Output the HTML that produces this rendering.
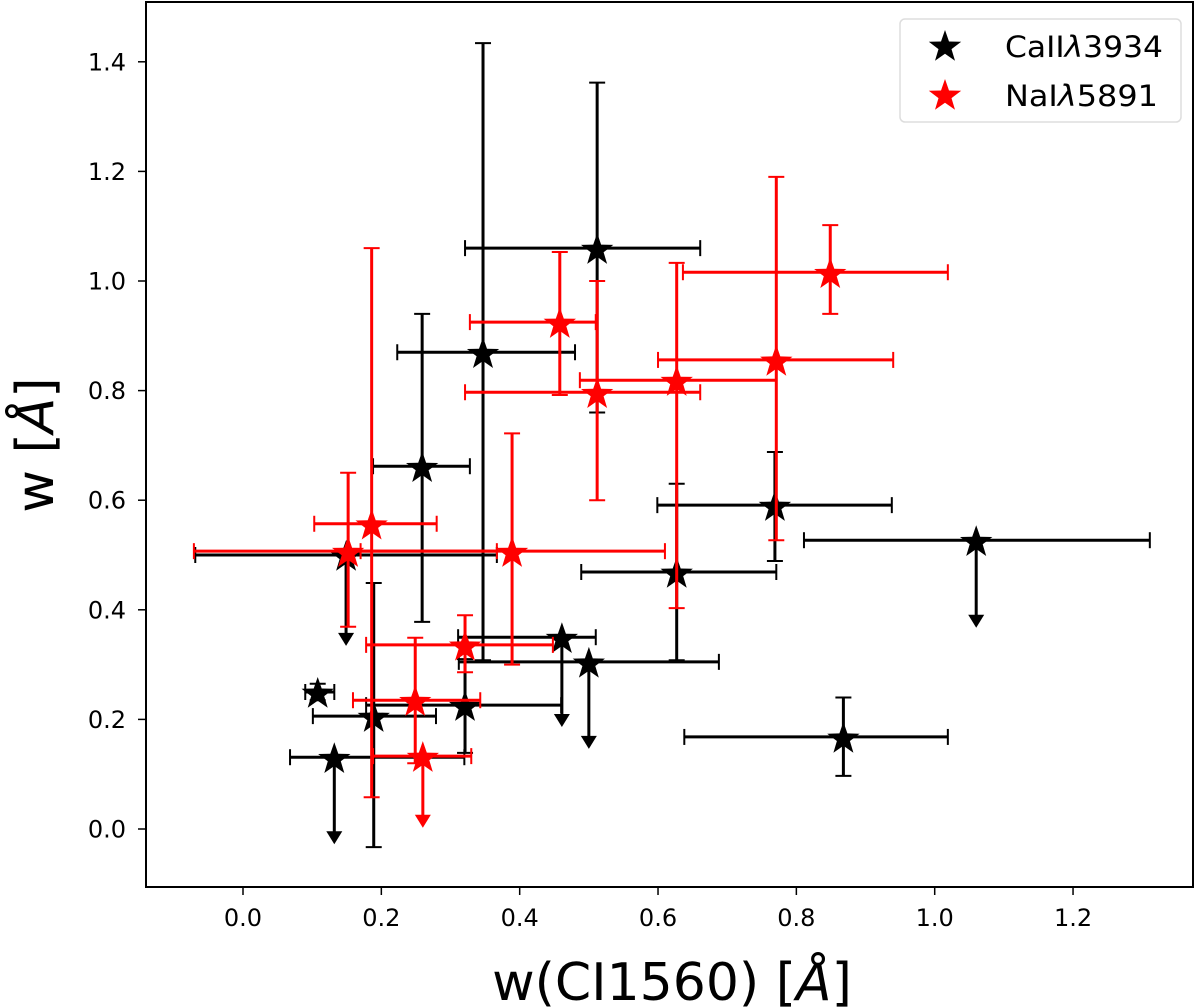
<!DOCTYPE html>
<html><head><meta charset="utf-8"><style>
body{margin:0;background:#fff}
svg{display:block;font-family:"DejaVu Sans","Liberation Sans",sans-serif}
</style></head><body>
<svg id="chart" width="1200" height="1007" viewBox="0 0 1200 1007" xmlns="http://www.w3.org/2000/svg">
<rect x="0" y="0" width="1200" height="1007" fill="#fff"/>
<g id="marks"></g>
<rect x="146" y="2" width="1047" height="885" fill="none" stroke="#000" stroke-width="2"/>
<g id="axes"></g>
<text x="672" y="1000" font-size="52" text-anchor="middle">w(CI1560) [<tspan font-style="italic">Å</tspan>]</text>
<text transform="translate(53,445) rotate(-90)" font-size="52" text-anchor="middle">w [<tspan font-style="italic">Å</tspan>]</text>
<g>
<rect x="900" y="19" width="281" height="103" rx="5" fill="#fff" stroke="#ddd" stroke-width="1.5"/>
<g id="legend-marks"></g>
<text x="1005" y="57" font-size="29" textLength="158" lengthAdjust="spacingAndGlyphs">CaII<tspan font-style="italic">λ</tspan>3934</text>
<text x="1005" y="106" font-size="29" textLength="153" lengthAdjust="spacingAndGlyphs">NaI<tspan font-style="italic">λ</tspan>5891</text>
</g>
</svg>
<script>
// CaII λ3934 (black)
const caX   = [0.512,0.347,0.259,0.769,1.06,0.627,0.149,0.461,0.50,0.108,0.189,0.321,0.132,0.868];
const caY   = [1.06,0.87,0.662,0.591,0.527,0.469,0.50,0.35,0.305,0.25,0.206,0.226,0.131,0.168];
const caXlo = [0.321,0.223,0.188,0.599,0.811,0.489,-0.069,0.311,0.312,0.09,0.101,0.178,0.068,0.638];
const caXhi = [0.661,0.48,0.328,0.938,1.311,0.771,0.367,0.51,0.688,0.132,0.279,0.46,0.32,1.019];
const caYlo = [0.76,0.308,0.378,0.489,0.369,0.308,0.336,0.188,0.148,0.235,-0.033,0.139,-0.026,0.097];
const caYhi = [1.362,1.434,0.94,0.688,0.527,0.63,0.50,0.35,0.305,0.265,0.449,0.31,0.131,0.24];
const caUL  = [false,false,false,false,true,false,true,true,true,false,false,false,true,false];
// NaI λ5891 (red)
const naX   = [0.849,0.458,0.771,0.627,0.512,0.186,0.152,0.389,0.321,0.249,0.26];
const naY   = [1.016,0.925,0.856,0.819,0.797,0.557,0.507,0.507,0.336,0.235,0.133];
const naXlo = [0.636,0.328,0.60,0.487,0.321,0.103,-0.071,0.17,0.178,0.159,0.188];
const naXhi = [1.019,0.51,0.94,0.771,0.661,0.28,0.367,0.61,0.448,0.343,0.33];
const naYlo = [0.94,0.792,0.527,0.403,0.60,0.058,0.369,0.30,0.286,0.12,0.004];
const naYhi = [1.102,1.053,1.19,1.033,1.0,1.06,0.65,0.722,0.39,0.349,0.133];
const naUL  = [false,false,false,false,false,false,false,false,false,false,true];
const xTicks = [0.0,0.2,0.4,0.6,0.8,1.0,1.2];
const yTicks = [0.0,0.2,0.4,0.6,0.8,1.0,1.2,1.4];

const NS='http://www.w3.org/2000/svg';
const xs = v => 243 + 691.7*v;
const ys = v => 829 - 548*v;
function mk(tag, attrs, parent){const e=document.createElementNS(NS,tag);for(const k in attrs)e.setAttribute(k,attrs[k]);parent.appendChild(e);return e;}
function starPts(cx,cy,R){const r=R*0.4;let p=[];for(let i=0;i<10;i++){const a=-Math.PI/2+i*Math.PI/5;const rr=i%2?r:R;p.push((cx+rr*Math.cos(a)).toFixed(1)+','+(cy+rr*Math.sin(a)).toFixed(1));}return p.join(' ');}

const axes=document.getElementById('axes');
xTicks.forEach(t=>{
  const l=mk('line',{x1:xs(t),x2:xs(t),y1:887,y2:895,stroke:'#000','stroke-width':1.5},axes);
  
  
  const tx=mk('text',{x:xs(t),y:926,'font-size':24,'text-anchor':'middle'},axes);
  tx.textContent=t.toFixed(1);
  
  
});
yTicks.forEach(t=>{
  const l=mk('line',{x1:138,x2:146,y1:ys(t),y2:ys(t),stroke:'#000','stroke-width':1.5},axes);
  
  
  const tx=mk('text',{x:126,y:ys(t)+8.5,'font-size':24,'text-anchor':'end'},axes);
  tx.textContent=t.toFixed(1);
  
  
});

const marks=document.getElementById('marks');
function drawSeries(X,Y,Xlo,Xhi,Ylo,Yhi,UL,color,name){
  const g=mk('g',{},marks);
  
  
  for(let i=0;i<X.length;i++){
    const cx=xs(X[i]),cy=ys(Y[i]);
    const eb=mk('g',{stroke:color,'stroke-width':3,fill:color},g);
    
    
    mk('line',{x1:xs(Xlo[i]),x2:xs(Xhi[i]),y1:cy,y2:cy},eb);
    mk('line',{x1:xs(Xlo[i]),x2:xs(Xlo[i]),y1:cy-8,y2:cy+8,'stroke-width':2},eb);
    mk('line',{x1:xs(Xhi[i]),x2:xs(Xhi[i]),y1:cy-8,y2:cy+8,'stroke-width':2},eb);
    const yt=ys(Yhi[i]),yb=ys(Ylo[i]);
    if(UL[i]){
      mk('line',{x1:cx,x2:cx,y1:cy,y2:yb-10},eb);
      mk('polygon',{points:`${cx-8},${yb-12} ${cx+8},${yb-12} ${cx},${yb+1}`,stroke:'none'},eb);
    } else {
      mk('line',{x1:cx,x2:cx,y1:yt,y2:yb},eb);
      mk('line',{x1:cx-8,x2:cx+8,y1:yt,y2:yt,'stroke-width':2},eb);
      mk('line',{x1:cx-8,x2:cx+8,y1:yb,y2:yb,'stroke-width':2},eb);
    }
  }
  for(let i=0;i<X.length;i++){
    const s=mk('polygon',{points:starPts(xs(X[i]),ys(Y[i])+2,17),fill:color},g);
    
    
  }
}
drawSeries(caX,caY,caXlo,caXhi,caYlo,caYhi,caUL,'#000','caii');
drawSeries(naX,naY,naXlo,naXhi,naYlo,naYhi,naUL,'#ff0000','nai');

const lm=document.getElementById('legend-marks');
const s1=mk('polygon',{points:starPts(945,47,17),fill:'#000'},lm);


const s2=mk('polygon',{points:starPts(945,96,17),fill:'#ff0000'},lm);


</script>
</body></html>
